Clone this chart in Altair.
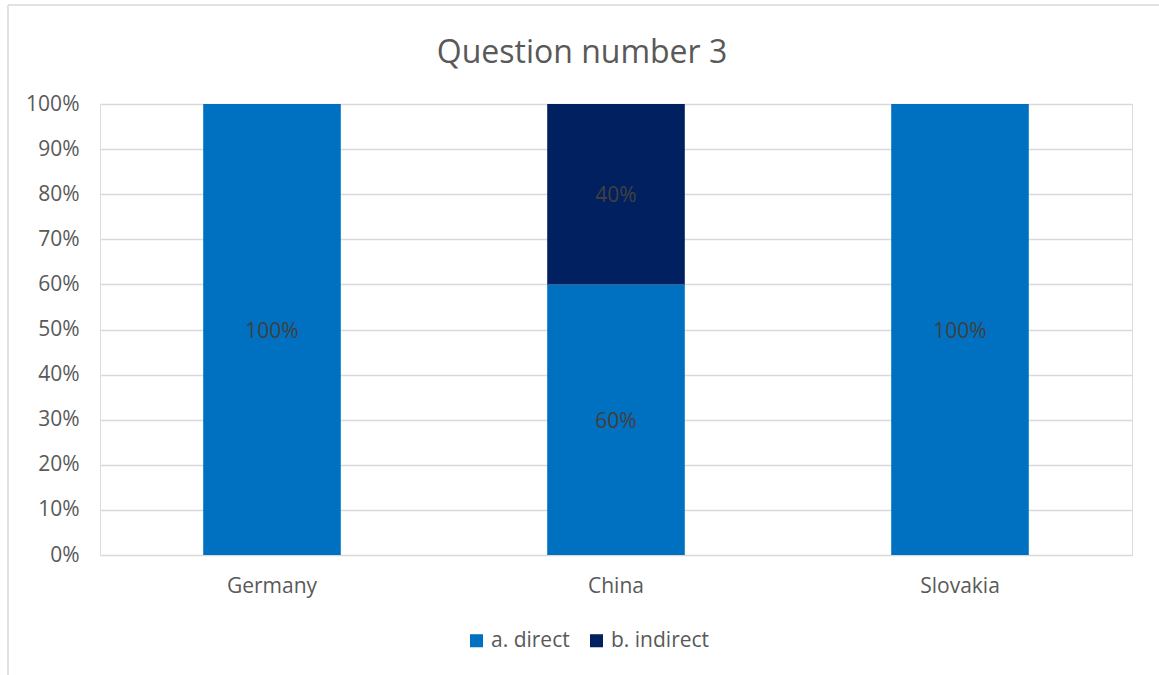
import altair as alt
import pandas as pd

countries = ["Germany", "China", "Slovakia"]
answers = ["a. direct", "b. indirect"]
direct = [1.0, 0.6, 1.0]
indirect = [0.0, 0.4, 0.0]
title_text = "Question number 3"

rows = []
for c, d, i in zip(countries, direct, indirect):
    rows.append({"country": c, "answer": answers[0], "value": d, "order": 0})
    rows.append({"country": c, "answer": answers[1], "value": i, "order": 1})
df = pd.DataFrame(rows)

FONT = "Open Sans"
FS = 21
W, H = 1032, 451
colors = ["#0070C0", "#002060"]

base = alt.Chart(df).transform_filter("datum.value > 0")

bars = base.mark_bar().encode(
    x=alt.X("country:N", sort=countries,
            scale=alt.Scale(paddingInner=0.6, paddingOuter=0.3),
            axis=alt.Axis(title=None, labelAngle=0, ticks=False, domain=False,
                          labelPadding=20, labelFontSize=FS, labelColor="#595959",
                          labelFont=FONT)),
    y=alt.Y("value:Q", stack="zero",
            scale=alt.Scale(domain=[0, 1]),
            axis=alt.Axis(title=None, format=".0%", values=[i / 10 for i in range(11)],
                          ticks=False, domain=False, labelPadding=21, labelFontSize=FS,
                          labelColor="#595959", labelFont=FONT,
                          gridColor="#d9d9d9", gridWidth=1.3)),
    color=alt.Color("answer:N", sort=answers,
                    scale=alt.Scale(domain=answers, range=colors),
                    legend=alt.Legend(title=None, orient="none", direction="horizontal",
                                      legendX=366, legendY=526, symbolType="square",
                                      symbolSize=170, symbolStrokeWidth=0,
                                      labelFontSize=FS, labelColor="#595959",
                                      labelFont=FONT, columnPadding=16, symbolOffset=0)),
    order=alt.Order("order:Q"),
)

labels = base.transform_stack(
    stack="value", groupby=["country"], as_=["v0", "v1"],
    sort=[alt.SortField("order")]
).transform_calculate(
    mid="(datum.v0 + datum.v1) / 2"
).mark_text(fontSize=FS, color="#404040", font=FONT, dy=2).encode(
    x=alt.X("country:N", sort=countries),
    y=alt.Y("mid:Q"),
    text=alt.Text("value:Q", format=".0%"),
)

title = alt.Chart(pd.DataFrame({"t": [title_text]})).mark_text(
    fontSize=32, font=FONT, color="#595959", baseline="alphabetic", align="center"
).encode(x=alt.value(482), y=alt.value(-41), text="t:N")

border = alt.Chart(pd.DataFrame({"k": [0]})).mark_rule(color="#d9d9d9", strokeWidth=1.5)
top_line = border.encode(x=alt.value(-92), x2=alt.value(1070), y=alt.value(-99))
left_line = border.encode(x=alt.value(-92), y=alt.value(-99), y2=alt.value(580))

chart = alt.layer(top_line, left_line, bars, labels, title).properties(
    width=W, height=H,
    autosize=alt.AutoSizeParams(type="none"),
    padding={"left": 100, "top": 104, "right": 27, "bottom": 120},
).configure_view(stroke=None).configure(background="white")

chart.save("out.html", embed_options={"renderer": "svg", "actions": False})
